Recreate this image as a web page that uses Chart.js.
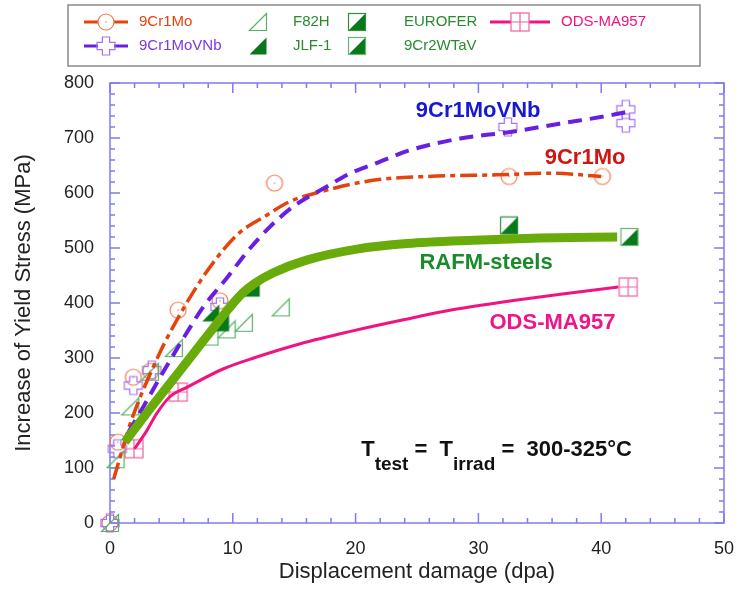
<!DOCTYPE html>
<html><head><meta charset="utf-8">
<script src="https://cdn.jsdelivr.net/npm/chart.js@4/dist/chart.umd.min.js"></script>
<style>html,body{margin:0;padding:0;background:#fff;}#wrap{width:738px;height:590px;}</style>
</head><body><div id="wrap"><canvas id="c" width="738" height="590"></canvas></div>
<script>
const FONT = "'Liberation Sans', Arial, Helvetica, sans-serif";

// ---- tick layout values ----
const xMin = 0, xMax = 50, xMajor = 10, xMinor = 2;
const yMin = 0, yMax = 800, yMajor = 100, yMinor = 20;
const xTitle = 'Displacement damage (dpa)';
const yTitle = 'Increase of Yield Stress (MPa)';

// ---- series names ----
const seriesNames = ['9Cr1Mo', '9Cr1MoVNb', 'F82H', 'JLF-1', 'EUROFER', '9Cr2WTaV', 'ODS-MA957'];

// ---- measured points ----
const mo_x = [0, 0.65, 1.9, 3.3, 5.55, 8.95, 13.4, 32.5, 40.1];
const mo_y = [0, 147, 265, 276, 387, 404, 618, 630, 630];
const vnb_x = [0, 0.6, 1.9, 3.4, 8.95, 32.4, 42.0, 42.0];
const vnb_y = [0, 135, 250, 278, 393, 720, 752, 727];
const f82h_x = [0, 0.45, 1.65, 3.25, 5.2, 8.1, 9.5, 10.9, 13.9];
const f82h_y = [0, 116, 212, 275, 318, 339, 352, 364, 392];
const jlf_x = [8.2, 9.0, 11.5];
const jlf_y = [382, 364, 427];
const eurofer_x = [32.5];
const eurofer_y = [541];
const wtav_x = [42.3];
const wtav_y = [520];
const ods_x = [1.95, 5.55, 42.2];
const ods_y = [135, 238, 429];

// ---- trend curves ----
const moFit_x = [0.3, 1.75, 3.9, 4.9, 7.3, 9.2, 10.6, 12.5, 14.6, 17.1, 21.4, 25.8, 31.5, 36, 40];
const moFit_y = [80, 187, 302, 347, 438, 496, 529, 556, 584, 602, 623, 630, 633, 636, 630];
const vnbFit_x = [1.5, 2.6, 3.9, 4.9, 6.2, 7.6, 9.5, 11.2, 13, 14.9, 17.6, 19.5, 22, 24.3, 28.5, 32.6, 36.6, 40.7, 42];
const vnbFit_y = [165, 207, 258, 296, 344, 393, 445, 494, 538, 575, 611, 635, 657, 677, 699, 711, 726, 741, 747];
const rafmFit_x = [1.2, 3, 5, 7, 8.5, 9.75, 10.8, 11.8, 13.3, 16, 20.1, 24.2, 29.6, 35, 41.3];
const rafmFit_y = [147, 200, 257, 314, 357, 392, 418, 436, 455, 478, 498, 508, 514, 518, 520];
const odsFit_x = [2.0, 3.0, 3.8, 4.9, 6.3, 9.2, 11.7, 15.5, 19.5, 24, 28, 33, 37, 41.4];
const odsFit_y = [135, 168, 199, 230, 247, 280, 300, 326, 348, 370, 388, 405, 417, 429];

// ---- annotation labels ----
const curveLabels = [
  {text: '9Cr1MoVNb', x: 24.9, y: 750, color: '#1818d2'},
  {text: '9Cr1Mo', x: 35.4, y: 663, color: '#d01512'},
  {text: 'RAFM-steels', x: 25.2, y: 472, color: '#1b8a2b'},
  {text: 'ODS-MA957', x: 30.9, y: 363, color: '#f0148a'}
];
const condParts = [['T', false], ['test', true], [' =  ', false], ['T', false], ['irrad', true], [' =  300-325°C', false]];
const condRightX = 42.5, condY = 132;

const zip = (xs, ys) => xs.map((v, i) => ({x: v, y: ys[i]}));

function mk(size, draw) {
  const c = document.createElement('canvas');
  c.width = size; c.height = size;
  const g = c.getContext('2d');
  draw(g, size);
  return c;
}
const circleImg = mk(20, (g, s) => {
  g.strokeStyle = '#f07a55'; g.lineWidth = 1.2;
  g.beginPath(); g.arc(s/2, s/2, 8, 0, Math.PI*2); g.stroke();
  g.fillStyle = '#f07a55'; g.beginPath(); g.arc(s/2, s/2, 0.8, 0, Math.PI*2); g.fill();
});
const crossImg = mk(22, (g, s) => {
  const c = s/2, a = 9, w = 3.6;
  g.strokeStyle = '#a472f2'; g.lineWidth = 1.2;
  g.beginPath();
  g.moveTo(c-w, c-a); g.lineTo(c+w, c-a); g.lineTo(c+w, c-w); g.lineTo(c+a, c-w); g.lineTo(c+a, c+w);
  g.lineTo(c+w, c+w); g.lineTo(c+w, c+a); g.lineTo(c-w, c+a); g.lineTo(c-w, c+w); g.lineTo(c-a, c+w);
  g.lineTo(c-a, c-w); g.lineTo(c-w, c-w); g.closePath(); g.stroke();
});
function triPath(g, s) {
  const h = 8.5, c = s/2;
  g.beginPath(); g.moveTo(c-h, c+h); g.lineTo(c+h, c+h); g.lineTo(c+h, c-h); g.closePath();
}
const triOpenImg = mk(20, (g, s) => { g.strokeStyle = '#55b265'; g.lineWidth = 1.2; triPath(g, s); g.stroke(); });
const triFillImg = mk(20, (g, s) => { g.fillStyle = '#08791a'; triPath(g, s); g.fill(); });
function halfSq(outline) {
  return mk(20, (g, s) => {
    const h = 8.5, c = s/2;
    g.fillStyle = '#fff'; g.fillRect(c-h, c-h, 2*h, 2*h);
    g.fillStyle = '#08791a';
    g.beginPath(); g.moveTo(c-h, c+h); g.lineTo(c+h, c+h); g.lineTo(c+h, c-h); g.closePath(); g.fill();
    g.strokeStyle = outline; g.lineWidth = 1.2; g.strokeRect(c-h, c-h, 2*h, 2*h);
  });
}
const euroImg = halfSq('#2e8f3c');
const wtavImg = halfSq('#62b872');
const odsImg = mk(22, (g, s) => {
  const h = 9, c = s/2;
  g.strokeStyle = '#f0609e'; g.lineWidth = 1.2;
  g.strokeRect(c-h, c-h, 2*h, 2*h);
  g.beginPath(); g.moveTo(c, c-h); g.lineTo(c, c+h); g.moveTo(c-h, c); g.lineTo(c+h, c); g.stroke();
});

const lineDS = (xs, ys, color, width, dash) => ({
  type: 'line', data: zip(xs, ys), borderColor: color, borderWidth: width, borderDash: dash,
  pointRadius: 0, cubicInterpolationMode: 'monotone', fill: false, clip: false, borderCapStyle: 'butt'
});
const markDS = (xs, ys, img) => ({
  type: 'scatter', data: zip(xs, ys), pointStyle: img, pointRadius: 9, showLine: false, clip: false
});

const framePlugin = {
  id: 'frame',
  beforeDatasetsDraw(chart) {
    const {ctx, chartArea: a, scales: {x, y}} = chart;
    ctx.save();
    ctx.strokeStyle = '#7c7cf2'; ctx.lineWidth = 1.5;
    ctx.strokeRect(a.left, a.top, a.right - a.left, a.bottom - a.top);
    ctx.beginPath();
    for (let v = xMin; v <= xMax + 1e-9; v += xMinor) {
      const p = x.getPixelForValue(v), len = (Math.round(v) % xMajor === 0) ? 10 : 5;
      ctx.moveTo(p, a.bottom); ctx.lineTo(p, a.bottom - len);
      ctx.moveTo(p, a.top); ctx.lineTo(p, a.top + len);
    }
    for (let v = yMin; v <= yMax + 1e-9; v += yMinor) {
      const p = y.getPixelForValue(v), len = (Math.round(v) % yMajor === 0) ? 10 : 5;
      ctx.moveTo(a.left, p); ctx.lineTo(a.left + len, p);
      ctx.moveTo(a.right, p); ctx.lineTo(a.right - len, p);
    }
    ctx.stroke();
    ctx.restore();
  },
  afterDatasetsDraw(chart) {
    const {ctx, scales: {x, y}} = chart;
    ctx.save();
    ctx.textBaseline = 'middle'; ctx.textAlign = 'left';
    ctx.font = 'bold 22px ' + FONT;
    curveLabels.forEach(l => { ctx.fillStyle = l.color; ctx.fillText(l.text, x.getPixelForValue(l.x), y.getPixelForValue(l.y)); });
    const big = 'bold 22px ' + FONT, small = 'bold 19px ' + FONT;
    let total = 0;
    condParts.forEach(([t, sub]) => { ctx.font = sub ? small : big; total += ctx.measureText(t).width; });
    let px = x.getPixelForValue(condRightX) - total;
    const py = y.getPixelForValue(condY);
    ctx.fillStyle = '#111';
    condParts.forEach(([t, sub]) => {
      ctx.font = sub ? small : big;
      ctx.fillText(t, px, sub ? py + 14 : py);
      px += ctx.measureText(t).width;
    });
    ctx.restore();
  },
  afterDraw(chart) {
    const ctx = chart.ctx;
    ctx.save();
    ctx.strokeStyle = '#8a8a8a'; ctx.lineWidth = 1.5;
    ctx.strokeRect(68, 5, 632, 61);
    const r1 = 22, r2 = 46;
    ctx.font = '15px ' + FONT; ctx.textBaseline = 'middle'; ctx.textAlign = 'left';
    const drawLine = (x0, x1, yy, color, w) => { ctx.strokeStyle = color; ctx.lineWidth = w; ctx.beginPath(); ctx.moveTo(x0, yy); ctx.lineTo(x1, yy); ctx.stroke(); };
    const img = (im, cx, cy) => ctx.drawImage(im, cx - im.width/2, cy - im.height/2);
    const green = '#2a8a2e';
    drawLine(84, 128, r1, '#e5420c', 3); ctx.fillStyle = '#fff'; ctx.beginPath(); ctx.arc(106, r1, 8, 0, 7); ctx.fill(); img(circleImg, 106, r1);
    ctx.fillStyle = '#e5420c'; ctx.fillText(seriesNames[0], 139, r1);
    drawLine(84, 128, r2, '#6a1fe0', 3); ctx.fillStyle = '#fff'; ctx.fillRect(98, r2 - 8, 16, 16); img(crossImg, 106, r2);
    ctx.fillStyle = '#7a38e0'; ctx.fillText(seriesNames[1], 139, r2);
    img(triOpenImg, 258, r1); ctx.fillStyle = green; ctx.fillText(seriesNames[2], 293, r1);
    img(triFillImg, 258, r2); ctx.fillStyle = green; ctx.fillText(seriesNames[3], 293, r2);
    img(euroImg, 357, r1); ctx.fillStyle = green; ctx.fillText(seriesNames[4], 404, r1);
    img(wtavImg, 357, r2); ctx.fillStyle = green; ctx.fillText(seriesNames[5], 404, r2);
    drawLine(490, 550, r1, '#f01482', 3); ctx.fillStyle = '#fff'; ctx.fillRect(511, r1 - 9, 18, 18); img(odsImg, 520, r1);
    ctx.fillStyle = '#f01482'; ctx.fillText(seriesNames[6], 561, r1);
    ctx.restore();
  }
};

new Chart(document.getElementById('c'), {
  type: 'scatter',
  data: {
    datasets: [
      lineDS(rafmFit_x, rafmFit_y, '#6aab0c', 9, []),
      lineDS(vnbFit_x, vnbFit_y, '#6a1fe0', 4, [14, 8]),
      lineDS(moFit_x, moFit_y, '#e5420c', 3.5, [17, 5, 5, 5]),
      lineDS(odsFit_x, odsFit_y, '#f01482', 3, []),
      markDS(jlf_x, jlf_y, triFillImg),
      markDS(eurofer_x, eurofer_y, euroImg),
      markDS(wtav_x, wtav_y, wtavImg),
      markDS(f82h_x, f82h_y, triOpenImg),
      markDS(ods_x, ods_y, odsImg),
      markDS(vnb_x, vnb_y, crossImg),
      markDS(mo_x, mo_y, circleImg)
    ]
  },
  options: {
    responsive: false, animation: false, events: [],
    layout: {padding: {left: 0, right: 14, top: 83, bottom: 0}},
    plugins: {legend: {display: false}, tooltip: {enabled: false}},
    scales: {
      x: {
        type: 'linear', min: xMin, max: xMax,
        grid: {display: false, drawTicks: false}, border: {display: false},
        ticks: {stepSize: xMajor, padding: 15, color: '#222', font: {family: FONT, size: 18}},
        title: {display: true, text: xTitle, color: '#222', font: {family: FONT, size: 22}, padding: {top: 0, bottom: 5}},
        afterFit(s) { s.height = 67; s.paddingLeft = 0; s.paddingRight = 0; }
      },
      y: {
        type: 'linear', min: yMin, max: yMax,
        grid: {display: false, drawTicks: false}, border: {display: false},
        ticks: {stepSize: yMajor, padding: 16, color: '#222', font: {family: FONT, size: 18}},
        title: {display: true, text: yTitle, color: '#222', font: {family: FONT, size: 22}, padding: {top: 11, bottom: 0}},
        afterFit(s) { s.width = 110; s.paddingTop = 0; s.paddingBottom = 0; }
      }
    }
  },
  plugins: [framePlugin]
});
</script></body></html>
